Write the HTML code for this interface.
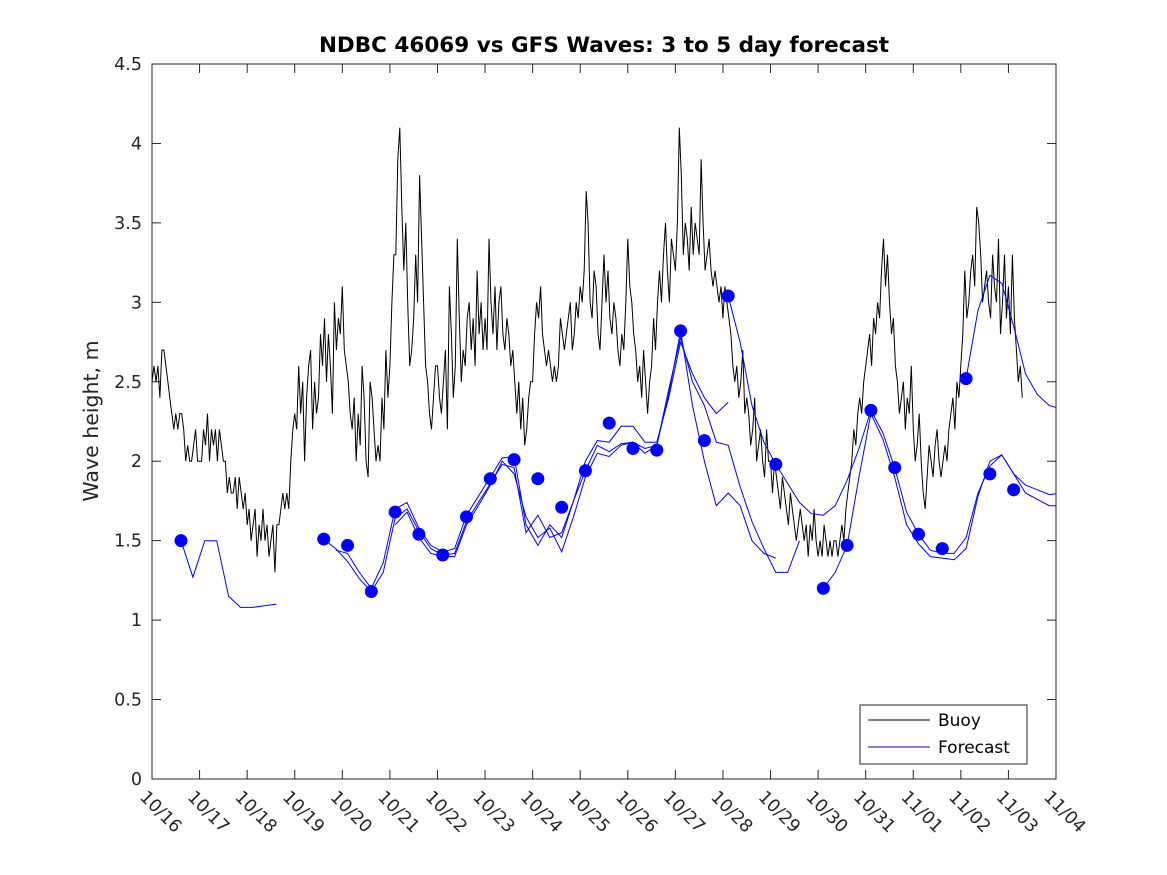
<!DOCTYPE html>
<html><head><meta charset="utf-8"><style>
html,body{margin:0;padding:0;background:#fff;}
svg{display:block;font-family:"DejaVu Sans","Liberation Sans",sans-serif;}
</style></head><body>
<svg id="chart" width="1167" height="875" viewBox="0 0 1167 875" xmlns="http://www.w3.org/2000/svg">
<rect width="1167" height="875" fill="#fff"/>
<text x="604" y="52" text-anchor="middle" font-size="21.5" font-weight="bold" fill="#000">NDBC 46069 vs GFS Waves: 3 to 5 day forecast</text>
<text transform="translate(98,421) rotate(-90)" text-anchor="middle" font-size="20.5" fill="#262626">Wave height, m</text>
<g id="plot"></g>
</svg>
<script>
const xLabels=["10/16","10/17","10/18","10/19","10/20","10/21","10/22","10/23","10/24","10/25","10/26","10/27","10/28","10/29","10/30","10/31","11/01","11/02","11/03","11/04"];
const yTicks=[0,0.5,1,1.5,2,2.5,3,3.5,4,4.5];
const yTickLabels=["0","0.5","1","1.5","2","2.5","3","3.5","4","4.5"];
// buoy: hourly from 10/16 00:00
const buoyStep=1/24;
const buoy=[
2.5,2.6,2.5,2.6,2.4,2.7,2.7,2.6,2.5,2.4,2.3,2.2,2.3,2.2,2.3,2.3,2.2,2.0,2.1,2.0,2.0,2.1,2.2,2.0,
2.0,2.0,2.2,2.1,2.3,2.0,2.2,2.1,2.2,2.0,2.2,2.1,2.0,2.0,1.8,1.9,1.8,1.8,1.9,1.7,1.9,1.8,1.7,1.8,
1.6,1.7,1.5,1.6,1.7,1.4,1.6,1.5,1.7,1.5,1.6,1.4,1.5,1.6,1.3,1.6,1.6,1.7,1.8,1.7,1.8,1.7,2.0,2.2,
2.3,2.2,2.6,2.3,2.5,2.0,2.4,2.6,2.7,2.2,2.5,2.3,2.4,2.8,2.6,2.9,2.5,2.8,2.6,2.3,3.0,2.7,2.9,2.8,
3.1,2.7,2.6,2.5,2.3,2.2,2.4,2.0,2.3,2.1,2.6,2.4,2.0,1.9,2.5,2.4,2.2,2.0,2.1,2.0,2.4,2.2,2.7,2.4,
2.6,3.0,3.3,3.3,3.9,4.1,3.6,3.2,3.5,3.0,2.6,2.7,2.9,3.3,3.0,3.8,3.4,3.0,2.6,2.5,2.3,2.2,2.4,2.6,
2.6,2.4,2.3,2.5,2.7,2.2,3.1,2.8,2.4,2.6,3.4,2.9,2.5,2.7,2.6,2.9,3.0,2.7,2.9,2.6,3.2,2.8,3.0,2.7,
2.9,2.7,3.4,3.0,2.8,3.1,2.7,3.0,3.1,2.8,2.7,2.9,2.8,2.6,2.7,2.5,2.3,2.5,2.2,2.4,2.1,2.2,2.4,2.5,
2.5,2.8,3.0,2.9,3.1,2.8,2.7,2.6,2.7,2.6,2.5,2.6,2.5,2.6,2.9,2.8,2.7,2.8,2.9,3.0,2.7,2.8,3.0,2.9,
3.1,3.0,3.2,3.7,3.5,3.0,2.9,3.2,3.1,2.8,2.7,3.0,3.3,3.0,3.2,2.9,2.8,3.0,2.9,2.7,2.6,2.8,2.7,3.0,
3.4,3.1,3.0,2.8,2.7,2.5,2.6,2.4,2.7,2.5,2.3,2.5,2.6,2.9,2.7,3.0,3.2,3.0,3.3,3.5,3.2,3.0,3.4,3.3,
3.2,3.5,4.1,3.8,3.3,3.5,3.4,3.2,3.6,3.3,3.5,3.4,3.3,3.9,3.5,3.2,3.3,3.4,3.2,3.1,3.2,3.1,3.0,3.1,
2.9,3.1,3.0,2.9,2.8,2.6,2.5,2.6,2.4,2.5,2.7,2.3,2.4,2.3,2.1,2.2,2.4,2.0,2.1,2.2,2.0,1.9,2.2,2.0,
2.0,1.8,2.0,1.9,1.8,1.7,1.9,1.8,1.7,1.6,1.8,1.7,1.6,1.5,1.6,1.7,1.6,1.5,1.6,1.4,1.6,1.5,1.7,1.5,
1.4,1.5,1.4,1.6,1.5,1.4,1.5,1.4,1.5,1.5,1.4,1.5,1.6,1.5,1.7,1.8,1.9,2.0,2.2,2.1,2.3,2.4,2.3,2.5,
2.6,2.7,2.8,2.6,2.9,2.8,3.0,2.9,3.2,3.4,3.1,3.3,3.0,2.8,2.9,2.6,2.5,2.3,2.4,2.5,2.2,2.4,2.3,2.6,
2.2,2.0,2.1,2.3,2.0,1.8,1.7,1.9,2.1,2.0,1.9,2.1,2.2,2.0,1.9,2.0,2.1,2.0,2.2,2.3,2.4,2.2,2.5,2.4,
2.6,2.8,3.2,2.9,3.0,3.2,3.3,3.1,3.6,3.5,3.3,3.0,3.1,3.2,3.0,2.9,3.3,3.1,3.0,3.4,2.8,3.0,3.3,2.9,
3.1,2.8,3.3,2.9,2.7,2.5,2.6,2.4];
// forecasts: 6-hourly grid, day = fcT0 + 0.25*(start+i)
const fcT0=0.61, fcStep=0.25;
const fcStarts=[0,12,13,18,46,54,66];
const fc0=[1.5,1.27,1.5,1.5,1.15,1.08,1.08,1.09,1.10];
const fc1=[1.51,1.45,1.37,1.26,1.18,1.30,1.64,1.70,1.56,1.45,1.41,1.42,1.62,1.74,1.86,1.98,1.96,1.55,1.66,1.52,1.55,1.75,1.94,2.10,2.06,2.11,2.12,2.08,2.10,2.42,2.82,2.35,2.0,1.72,1.80,1.72,1.5,1.42,1.39];
const fc2=[1.44,1.42,1.30,1.20,1.36,1.70,1.74,1.58,1.47,1.43,1.45,1.66,1.78,1.90,2.02,2.03,1.6,1.47,1.60,1.52,1.75,2.0,2.13,2.12,2.22,2.22,2.12,2.12,2.40,2.75,2.55,2.40,2.30,2.37];
const fc3=[1.60,1.68,1.52,1.42,1.40,1.40,1.60,1.72,1.85,2.0,1.92,1.65,1.52,1.58,1.43,1.65,1.90,2.05,2.03,2.10,2.12,2.05,2.10,2.45,2.78,2.50,2.35,2.12,2.10,1.84,1.62,1.45,1.30,1.30,1.50];
const fc4=[3.04,2.75,2.35,2.12,1.98,1.86,1.74,1.67,1.66,1.72,1.88,2.08,2.32,2.18,1.96,1.68,1.54,1.44,1.42,1.42,1.52,1.80,1.97,2.04,1.92,1.85,1.82,1.79,1.80];
const fc5=[1.20,1.30,1.47,1.90,2.30,2.14,1.90,1.60,1.48,1.40,1.39,1.38,1.45,1.78,2.0,2.04,1.92,1.80,1.76,1.72,1.72];
const fc6=[2.52,2.95,3.17,3.12,2.85,2.55,2.42,2.35,2.33];
// dots every 12h: day = fcT0 + 0.5*k
const dots=[1.5,null,null,null,null,null,1.51,1.47,1.18,1.68,1.54,1.41,1.65,1.89,2.01,1.89,1.71,1.94,2.24,2.08,2.07,2.82,2.13,3.04,null,1.98,null,1.2,1.47,2.32,1.96,1.54,1.45,2.52,1.92,1.82];

const L=152,R=1056,T=64,B=779;
const xS=d=>L+(R-L)*d/19;
const yS=v=>B-(B-T)*v/4.5;
const NS="http://www.w3.org/2000/svg";
const g=document.getElementById('plot');
function mk(tag,attrs,parent){const e=document.createElementNS(NS,tag);for(const k in attrs)e.setAttribute(k,attrs[k]);(parent||g).appendChild(e);return e;}

const defs=mk('defs',{});
const cp=mk('clipPath',{id:'clip'},defs);
mk('rect',{x:L,y:T,width:R-L,height:B-T},cp);

const frame=mk('rect',{x:L,y:T,width:R-L,height:B-T,fill:'none',stroke:'#262626','stroke-width':1});



xLabels.forEach((lab,i)=>{
  const x=xS(i);
  if(i>0&&i<19){
    const t1=mk('line',{x1:x,y1:B,x2:x,y2:B-9,stroke:'#262626'});
    
    
    const t2=mk('line',{x1:x,y1:T,x2:x,y2:T+9,stroke:'#262626'});
    
    
  }
  const t=mk('text',{x:0,y:0,transform:`translate(${x-13},${B+19}) rotate(45)`,'font-size':17.5,fill:'#262626'});
  t.textContent=lab;
  
  
});
yTicks.forEach((v,i)=>{
  const y=yS(v);
  if(i>0&&i<yTicks.length-1){
    const a=mk('line',{x1:L,y1:y,x2:L+9,y2:y,stroke:'#262626'});
    
    
    const b=mk('line',{x1:R,y1:y,x2:R-9,y2:y,stroke:'#262626'});
    
    
  }
  const t=mk('text',{x:L-10,y:y+6,'text-anchor':'end','font-size':17.5,fill:'#262626'});
  t.textContent=yTickLabels[i];
  
  
});

const pg=mk('g',{'clip-path':'url(#clip)'});
let bd=buoy.map((v,i)=>(i?'L':'M')+xS(i*buoyStep).toFixed(1)+','+yS(v).toFixed(1)).join('');
const bl=mk('path',{d:bd,fill:'none',stroke:'#000','stroke-width':1},pg);



[fc0,fc1,fc2,fc3,fc4,fc5,fc6].forEach((arr,s)=>{
  const d=arr.map((v,i)=>(i?'L':'M')+xS(fcT0+fcStep*(fcStarts[s]+i)).toFixed(1)+','+yS(v).toFixed(1)).join('');
  const p=mk('path',{d:d,fill:'none',stroke:'#0000ff','stroke-width':1},pg);
  
  
});
dots.forEach((v,k)=>{
  if(v==null)return;
  const c=mk('circle',{cx:xS(fcT0+0.5*k),cy:yS(v),r:6.5,fill:'#0000ff'},pg);
  
  
});

const lg=mk('g',{});


mk('rect',{x:860,y:705,width:167,height:59,fill:'#fff',stroke:'#262626'},lg);
const e1=mk('line',{x1:868,y1:720,x2:930,y2:720,stroke:'#000'},lg);


const t1=mk('text',{x:938,y:726,'font-size':17,fill:'#000'},lg);t1.textContent='Buoy';


const e2=mk('line',{x1:868,y1:747,x2:930,y2:747,stroke:'#0000aa'},lg);


const t2=mk('text',{x:938,y:753,'font-size':17,fill:'#000'},lg);t2.textContent='Forecast';


</script>
</body></html>
